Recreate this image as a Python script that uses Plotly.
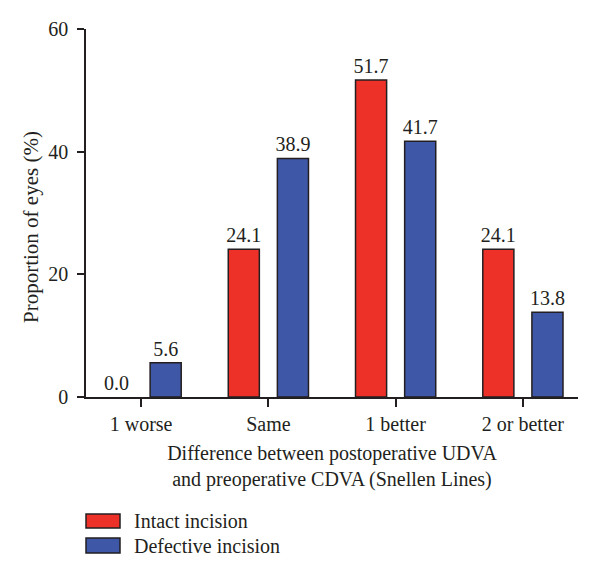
import plotly.graph_objects as go

categories = ["1 worse", "Same", "1 better", "2 or better"]
intact = [0.0, 24.1, 51.7, 24.1]
defective = [5.6, 38.9, 41.7, 13.8]
series_names = ["Intact incision", "Defective incision"]
y_ticks = [0, 20, 40, 60]

RED = "#ED3129"
BLUE = "#3F57A7"
INK = "#231F20"
FONT = "Liberation Serif"
FS = 20

W, H = 600, 575
L, R, T, B = 86, 22, 29, 178
pw, ph = W - L - R, H - T - B


def px_x(x):
    return (x - L) / pw


def px_y(y):
    return (H - B - y) / ph


fig = go.Figure()
for name, vals, col in [(series_names[0], intact, RED), (series_names[1], defective, BLUE)]:
    fig.add_trace(go.Bar(
        x=categories, y=vals, name=name,
        marker=dict(color=col, line=dict(color=INK, width=[1.5 if v > 0 else 0 for v in vals])),
        text=[f"{v:.1f}" for v in vals], textposition="outside", constraintext="none",
        textfont=dict(family=FONT, size=FS, color=INK),
        cliponaxis=False, showlegend=False,
    ))

fig.update_layout(
    width=W, height=H,
    margin=dict(l=L, r=R, t=T, b=B, autoexpand=False),
    plot_bgcolor="white", paper_bgcolor="white",
    barmode="group", bargap=0.228, bargroupgap=0.367,
    uniformtext=dict(mode=False),
    font=dict(family=FONT, size=FS, color=INK),
    xaxis=dict(
        range=[-0.433, 3.433], showline=True, linecolor=INK, linewidth=1.5,
        ticks="outside", ticklen=8, tickwidth=1.5, tickcolor=INK,
        showgrid=False, zeroline=False,
        tickfont=dict(family=FONT, size=FS, color=INK),
        title=dict(text="Difference between postoperative UDVA<br>and preoperative CDVA (Snellen Lines)",
                   font=dict(family=FONT, size=FS, color=INK), standoff=12),
    ),
    yaxis=dict(
        range=[0, 60], tickvals=y_ticks, showline=True, linecolor=INK, linewidth=1.5,
        ticks="outside", ticklen=7, tickwidth=1.5, tickcolor=INK,
        showgrid=False, zeroline=False, ticklabelstandoff=5,
        tickfont=dict(family=FONT, size=FS, color=INK),
    ),
)

# y-axis title placed to match the reference position
fig.add_annotation(xref="paper", yref="paper", x=px_x(31), y=px_y(227),
                   xanchor="center", yanchor="middle", textangle=-90, showarrow=False,
                   text="Proportion of eyes (%)", font=dict(family=FONT, size=21, color=INK))

# legend drawn manually to match the wide swatches of the reference
legend_rows = [(514, 528, RED, series_names[0]), (538, 553, BLUE, series_names[1])]
for y0, y1, col, name in legend_rows:
    fig.add_shape(type="rect", xref="paper", yref="paper",
                  x0=px_x(86), x1=px_x(120), y0=px_y(y1), y1=px_y(y0),
                  fillcolor=col, line=dict(color=INK, width=1.5))
    fig.add_annotation(xref="paper", yref="paper", x=px_x(132), y=px_y((y0 + y1) / 2),
                       xanchor="left", yanchor="middle", showarrow=False, text=name,
                       font=dict(family=FONT, size=FS, color=INK))

fig.write_html("out.html")
